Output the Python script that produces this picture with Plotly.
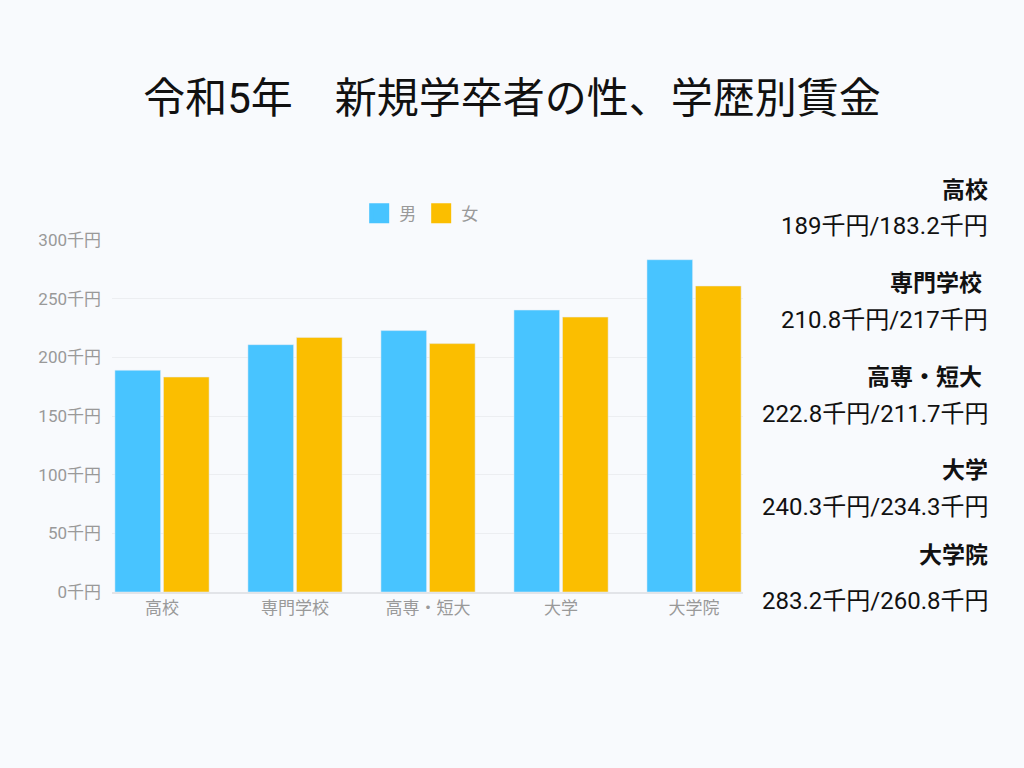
import plotly.graph_objects as go

categories = ["高校", "専門学校", "高専・短大", "大学", "大学院"]
male = [189, 210.8, 222.8, 240.3, 283.2]
female = [183.2, 217, 211.7, 234.3, 260.8]
y_ticks = [0, 50, 100, 150, 200, 250, 300]
y_tick_labels = [f"{v}千円" for v in y_ticks]
side_labels = ["高校", "専門学校 ", "高専・短大 ", "大学", "大学院"]
side_values = [f"{m:g}千円/{f:g}千円" for m, f in zip(male, female)]

BLUE = "#48C4FF"
YELLOW = "#FBBE00"
FONT = "Roboto, Noto Sans CJK JP"

fig = go.Figure()
fig.add_trace(go.Bar(x=list(range(len(categories))), y=male, name="男",
                     marker=dict(color=BLUE), showlegend=False))
fig.add_trace(go.Bar(x=list(range(len(categories))), y=female, name="女",
                     marker=dict(color=YELLOW), showlegend=False))
# legend entries with large square swatches
for nm, col in [("男", BLUE), ("女", YELLOW)]:
    fig.add_trace(go.Scatter(x=[None], y=[None], mode="markers", name=nm,
                             marker=dict(symbol="square", size=20, color=col,
                                         line=dict(color=col, width=4))))

fig.update_layout(
    width=1024, height=768,
    paper_bgcolor="#F8FAFD", plot_bgcolor="#F8FAFD",
    margin=dict(l=112, r=281, t=240, b=176),
    font=dict(family=FONT),
    barmode="group", bargap=0.27, bargroupgap=0.06,
    title=dict(text="令和5年　新規学卒者の性、学歴別賃金", x=0.5, xanchor="center",
               y=1 - 98 / 768, yanchor="middle",
               font=dict(size=42, color="#111111", family=FONT)),
    legend=dict(orientation="h", x=0.49, xanchor="center", y=1.075, yanchor="middle",
                font=dict(size=17, color="#999999"), bgcolor="rgba(0,0,0,0)",
                itemwidth=30),
    showlegend=True,
)
fig.update_xaxes(range=[-0.376, 4.368], tickmode="array",
                 tickvals=list(range(len(categories))), ticktext=categories,
                 tickfont=dict(size=17, color="#999999"), showgrid=False,
                 showline=True, linecolor="#E2E4E8", linewidth=1.5,
                 ticks="", zeroline=False)
fig.update_yaxes(range=[0, 300], tickmode="array", tickvals=y_ticks,
                 ticktext=y_tick_labels, tickfont=dict(size=17, color="#999999"),
                 showgrid=True, gridcolor="#ECEEF1", gridwidth=1,
                 zeroline=False, showline=False, ticks="", ticklabelstandoff=10)

label_y = [190, 283, 377, 470, 555]
value_y = [226, 320, 414, 507, 601]
for lab, val, ly, vy in zip(side_labels, side_values, label_y, value_y):
    fig.add_annotation(text=f"<b>{lab}</b>", xref="paper", yref="paper",
                       x=(990 - 112) / (1024 - 112 - 281), xanchor="right",
                       y=(768 - 176 - ly) / (768 - 240 - 176), yanchor="middle",
                       showarrow=False, font=dict(size=23, color="#111111", family=FONT))
    fig.add_annotation(text=val, xref="paper", yref="paper",
                       x=(990 - 112) / (1024 - 112 - 281), xanchor="right",
                       y=(768 - 176 - vy) / (768 - 240 - 176), yanchor="middle",
                       showarrow=False, font=dict(size=24, color="#111111", family=FONT))

fig.write_html("out.html")
